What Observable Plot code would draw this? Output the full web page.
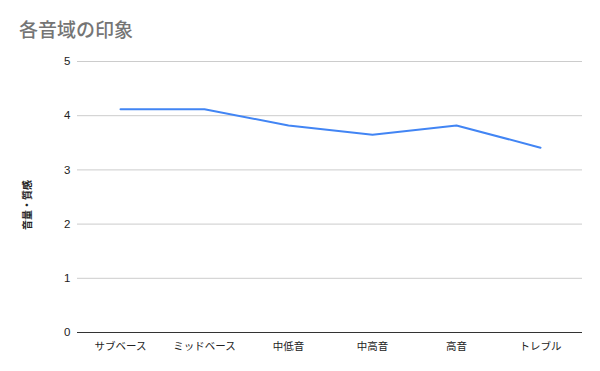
<!DOCTYPE html>
<html><head><meta charset="utf-8">
<script src="https://cdn.jsdelivr.net/npm/d3@7"></script>
<script src="https://cdn.jsdelivr.net/npm/@observablehq/plot@0.6"></script>
<style>
body{margin:0;background:#fff;font-family:"Liberation Sans","Noto Sans CJK JP",Arial,sans-serif;}
#wrap{position:relative;width:600px;height:371px;}
#title{position:absolute;left:19px;top:18px;font-size:19px;font-weight:500;color:#757575;font-family:"Noto Sans CJK JP",sans-serif;line-height:1.2;}
</style></head>
<body><div id="wrap"><div id="title">各音域の印象</div></div>
<script>
const categories = ["サブベース","ミッドベース","中低音","中高音","高音","トレブル"];
const values = [4.12, 4.12, 3.82, 3.65, 3.82, 3.41];
const yTicks = [0,1,2,3,4,5];
const yLabel = "音量・質感";
const data = categories.map((c,i)=>({cat:c, v:values[i]}));
const chart = Plot.plot({
  width:600, height:371,
  marginLeft:77, marginRight:18, marginTop:61, marginBottom:39,
  style:{fontFamily:'"Liberation Sans","Noto Sans CJK JP",sans-serif', color:"#222", background:"#fff"},
  x:{type:"point", domain:categories, padding:0.5, label:null},
  y:{domain:[0,5], ticks:yTicks, label:null},
  marks:[
    Plot.gridY(yTicks,{stroke:"#cccccc", strokeOpacity:1}),
    Plot.ruleY([0],{stroke:"#333"}),
    Plot.axisY(yTicks,{tickSize:0, tickPadding:7, fontSize:11.5, tickFormat:d3.format("d"), label:null}),
    Plot.axisX({tickSize:0, tickPadding:10, fontSize:10.5, label:null}),
    Plot.text([yLabel],{frameAnchor:"left", textAnchor:"middle", dx:-50, dy:8, rotate:-90, fontSize:10, fontWeight:"bold", fill:"#222"}),
    Plot.line(data,{x:"cat", y:"v", stroke:"#4285F4", strokeWidth:2})
  ]
});
document.getElementById("wrap").prepend(chart);
</script></body></html>
